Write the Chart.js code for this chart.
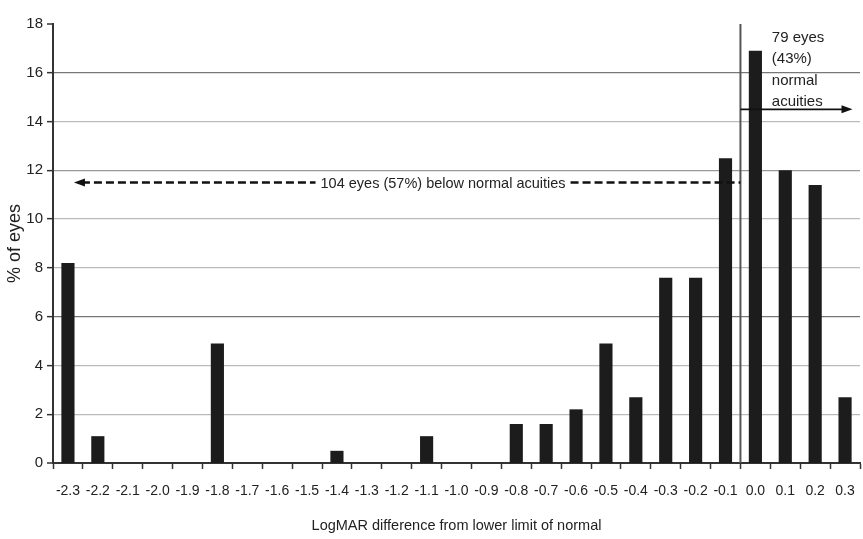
<!DOCTYPE html>
<html>
<head>
<meta charset="utf-8">
<script src="https://cdn.jsdelivr.net/npm/chart.js@4/dist/chart.umd.min.js"></script>
<style>
  html, body { margin: 0; padding: 0; background: #ffffff; }
  #wrap { width: 863px; height: 539px; }
</style>
</head>
<body>
<div id="wrap"><canvas id="c" width="863" height="539"></canvas></div>
<script>
// LogMAR difference from lower limit of normal (bins)
const logmarBins = ['-2.3','-2.2','-2.1','-2.0','-1.9','-1.8','-1.7','-1.6','-1.5','-1.4',
                    '-1.3','-1.2','-1.1','-1.0','-0.9','-0.8','-0.7','-0.6','-0.5','-0.4',
                    '-0.3','-0.2','-0.1','0.0','0.1','0.2','0.3'];
// Percentage of eyes in each bin
const percentEyes = [8.2, 1.1, 0, 0, 0, 4.9, 0, 0, 0, 0.5,
                     0, 0, 1.1, 0, 0, 1.6, 1.6, 2.2, 4.9, 2.7,
                     7.6, 7.6, 12.5, 16.9, 12.0, 11.4, 2.7];
const yTicks = [0, 2, 4, 6, 8, 10, 12, 14, 16, 18];

const belowLabel = '104 eyes (57%) below normal acuities';
const normalLabel = ['79 eyes', '(43%)', 'normal', 'acuities'];
const normalStartBin = '0.0';

const FONT = "'Liberation Sans', Arial, sans-serif";

function arrowHead(ctx, x, y, dir) {
  ctx.beginPath();
  ctx.moveTo(x, y);
  ctx.lineTo(x - dir * 11, y - 4);
  ctx.lineTo(x - dir * 11, y + 4);
  ctx.closePath();
  ctx.fill();
}

const annotations = {
  id: 'acuityAnnotations',
  afterDatasetsDraw(chart) {
    const ctx = chart.ctx;
    const xs = chart.scales.x, ys = chart.scales.y;
    const idx0 = logmarBins.indexOf(normalStartBin);
    const xDiv = xs.getPixelForValue(idx0 - 0.5);
    ctx.save();

    // boundary of normal acuity
    ctx.strokeStyle = '#555';
    ctx.lineWidth = 2;
    ctx.beginPath();
    ctx.moveTo(xDiv, ys.getPixelForValue(18));
    ctx.lineTo(xDiv, ys.getPixelForValue(0));
    ctx.stroke();

    // dashed arrow: below normal
    const yB = ys.getPixelForValue(11.5);
    const xL = xs.getPixelForValue(0.2);
    ctx.font = '14.5px ' + FONT;
    ctx.textBaseline = 'middle';
    ctx.textAlign = 'center';
    const cx = xs.getPixelForValue(12.55);
    const tw = ctx.measureText(belowLabel).width;
    ctx.strokeStyle = '#111';
    ctx.fillStyle = '#111';
    ctx.lineWidth = 2.6;
    ctx.setLineDash([8, 4]);
    ctx.beginPath();
    ctx.moveTo(xL + 8, yB);
    ctx.lineTo(cx - tw / 2 - 5, yB);
    ctx.moveTo(cx + tw / 2 + 5, yB);
    ctx.lineTo(xDiv, yB);
    ctx.stroke();
    ctx.setLineDash([]);
    arrowHead(ctx, xL, yB, -1);
    ctx.fillStyle = '#222';
    ctx.fillText(belowLabel, cx, yB + 1);

    // solid arrow: normal
    const yN = ys.getPixelForValue(14.5);
    const xR = xs.getPixelForValue(26.25);
    ctx.strokeStyle = '#111';
    ctx.fillStyle = '#111';
    ctx.lineWidth = 1.6;
    ctx.beginPath();
    ctx.moveTo(xDiv, yN);
    ctx.lineTo(xR - 8, yN);
    ctx.stroke();
    arrowHead(ctx, xR, yN, 1);
    ctx.textAlign = 'left';
    ctx.fillStyle = '#222';
    ctx.font = '15px ' + FONT;
    const tx = xs.getPixelForValue(23.55);
    const ty = ys.getPixelForValue(17.45);
    normalLabel.forEach((line, i) => ctx.fillText(line, tx, ty + i * 21.5));
    ctx.restore();
  }
};

new Chart(document.getElementById('c'), {
  type: 'bar',
  data: {
    labels: logmarBins,
    datasets: [{
      data: percentEyes,
      backgroundColor: '#1c1c1c',
      borderWidth: 0,
      categoryPercentage: 1.0,
      barPercentage: 0.44
    }]
  },
  options: {
    responsive: false,
    animation: false,
    devicePixelRatio: 1,
    layout: { padding: { top: 24, right: 3, left: 0, bottom: 0 } },
    plugins: { legend: { display: false }, tooltip: { enabled: false } },
    scales: {
      x: {
        offset: true,
        afterFit(s) { s.height = 76; s.paddingLeft = 0; s.paddingRight = 0; },
        grid: {
          offset: true,
          drawOnChartArea: false,
          drawTicks: true,
          tickLength: 6,
          tickColor: '#333',
          tickWidth: 1.5
        },
        border: { display: true, color: '#333', width: 2 },
        ticks: {
          autoSkip: false,
          maxRotation: 0,
          minRotation: 0,
          color: '#222',
          padding: 14,
          font: { family: FONT, size: 14 }
        },
        title: {
          display: true,
          text: 'LogMAR difference from lower limit of normal',
          color: '#222',
          font: { family: FONT, size: 14.5 },
          padding: { top: 9 }
        }
      },
      y: {
        min: 0,
        max: 18,
        afterFit(s) { s.width = 53; s.paddingTop = 0; s.paddingBottom = 0; },
        afterBuildTicks(s) { s.ticks = yTicks.map(v => ({ value: v })); },
        grid: {
          drawTicks: true,
          tickLength: 6,
          tickColor: '#333',
          tickWidth: 1.5,
          lineWidth: ctx => (ctx.tick && (ctx.tick.value === 0 || ctx.tick.value === 18)) ? 0 : 1.3,
          color: ctx => {
            const v = ctx.tick ? ctx.tick.value : 0;
            if (v === 16 || v === 6) return '#777';
            if (v === 12) return '#999';
            return '#bbb';
          }
        },
        border: { display: true, color: '#333', width: 2 },
        ticks: {
          color: '#222',
          padding: 4,
          font: { family: FONT, size: 15 }
        },
        title: {
          display: true,
          text: '% of eyes',
          color: '#222',
          font: { family: FONT, size: 18 },
          padding: { bottom: 0 }
        }
      }
    }
  },
  plugins: [annotations]
});
</script>
</body>
</html>
